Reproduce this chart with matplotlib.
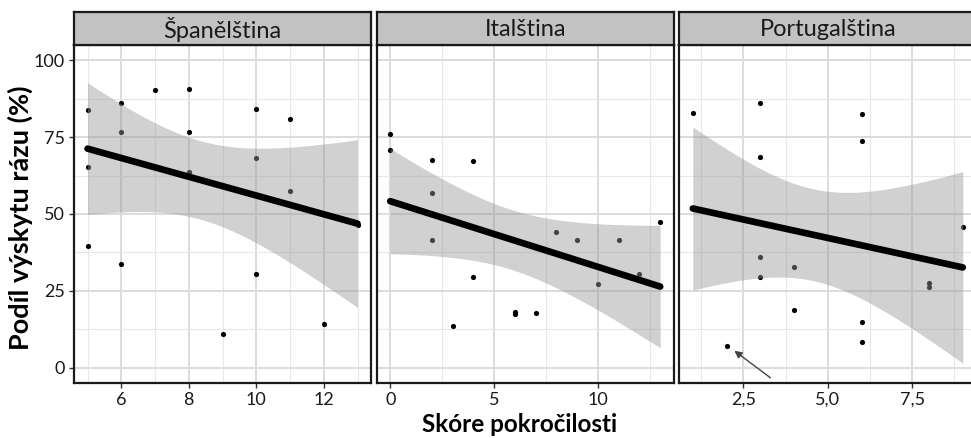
import numpy as np
import matplotlib
matplotlib.use("Agg")
import matplotlib.pyplot as plt

plt.rcParams['font.family'] = ['Lato', 'DejaVu Sans']

# data (x = skore, y = podil %)
es_x = [5, 5, 5, 6, 6, 6, 7, 8, 8, 8, 9, 10, 10, 10, 11, 11, 12, 13]
es_y = [84.0, 65.3, 39.5, 86.2, 76.7, 33.8, 90.5, 90.8, 76.6, 63.6, 10.8,
        84.3, 68.2, 30.5, 80.9, 57.4, 14.3, 46.5]

it_x = [0, 0, 2, 2, 2, 3, 4, 4, 6, 6, 7, 8, 9, 10, 11, 12, 13]
it_y = [75.9, 70.9, 67.7, 56.8, 41.6, 13.7, 67.2, 29.5, 18.1, 17.3, 17.9,
        44.2, 41.7, 27.2, 41.7, 30.4, 47.5]

pt_x = [1, 1, 2, 3, 3, 3, 3, 4, 4, 6, 6, 6, 6, 8, 8, 9]
pt_y = [82.8, 52.0, 7.1, 86.1, 68.5, 36.0, 29.5, 32.7, 18.6, 82.5, 73.6,
        14.7, 8.3, 27.7, 26.2, 45.8]

titles = ["Španělština", "Italština", "Portugalština"]
xticks = [[6, 8, 10, 12], [0, 5, 10], [2.5, 5.0, 7.5]]
xticklabels = [["6", "8", "10", "12"], ["0", "5", "10"], ["2,5", "5,0", "7,5"]]
xminor = [[5, 7, 9, 11, 13], [2.5, 7.5, 12.5], [1.25, 3.75, 6.25, 8.75]]
yticks = [0, 25, 50, 75, 100]
yminor = [12.5, 37.5, 62.5, 87.5]

# t quantiles (0.975) for df = n - 2
T975 = {13: 2.160, 14: 2.145, 15: 2.131, 16: 2.120}


def lm_ci(x, y, n_grid=80):
    x = np.asarray(x, float)
    y = np.asarray(y, float)
    n = len(x)
    b, a = np.polyfit(x, y, 1)
    resid = y - (a + b * x)
    s = np.sqrt(np.sum(resid ** 2) / (n - 2))
    sxx = np.sum((x - x.mean()) ** 2)
    xs = np.linspace(x.min(), x.max(), n_grid)
    fit = a + b * xs
    se = s * np.sqrt(1 / n + (xs - x.mean()) ** 2 / sxx)
    t = T975[n - 2]
    return xs, fit, fit - t * se, fit + t * se


fig = plt.figure(figsize=(9.71, 4.38), dpi=100)
W, H = 971, 438
lefts = [74, 376.7, 679.3]
pw = 297
top, bot, strip_top = 45, 383, 12

datasets = [(es_x, es_y), (it_x, it_y), (pt_x, pt_y)]

for i, (xv, yv) in enumerate(datasets):
    ax = fig.add_axes([lefts[i] / W, 1 - bot / H, pw / W, (bot - top) / H])
    rng = max(xv) - min(xv)
    ax.set_xlim(min(xv) - 0.05 * rng, max(xv) + 0.05 * rng)
    ax.set_ylim(-5, 105)

    ax.set_xticks(xticks[i])
    ax.set_xticklabels(xticklabels[i])
    ax.set_xticks(xminor[i], minor=True)
    ax.set_yticks(yticks)
    ax.set_yticks(yminor, minor=True)
    ax.grid(which='major', color='#dcdcdc', lw=1.4, zorder=0)
    ax.grid(which='minor', color='#e8e8e8', lw=0.8, zorder=0)
    ax.set_axisbelow(True)
    ax.tick_params(which='minor', length=0)
    ax.tick_params(which='major', length=3.5, width=1, color='#333333',
                   labelsize=13, labelcolor='#1a1a1a', pad=3)
    if i > 0:
        ax.tick_params(axis='y', which='both', left=False, labelleft=False)
    for sp in ax.spines.values():
        sp.set_linewidth(1.6)
        sp.set_color('#1a1a1a')

    ax.scatter(xv, yv, s=14, color='black', zorder=2, linewidths=0)
    xs, fit, lo, hi = lm_ci(xv, yv)
    ax.fill_between(xs, lo, hi, color='#999999', alpha=0.45, lw=0, zorder=3)
    ax.plot(xs, fit, color='black', lw=4.8, solid_capstyle='round', zorder=4)

    if i == 2:
        ax.annotate("", xy=(2.23, 5.5), xytext=(3.3, -3.3),
                    arrowprops=dict(arrowstyle='-|>', color='#444444', lw=1,
                                    mutation_scale=11, shrinkA=0, shrinkB=0),
                    zorder=5)

    sax = fig.add_axes([lefts[i] / W, 1 - top / H, pw / W, (top - strip_top) / H])
    sax.set_facecolor('#c2c2c2')
    sax.set_xticks([])
    sax.set_yticks([])
    for sp in sax.spines.values():
        sp.set_linewidth(1.6)
        sp.set_color('#1a1a1a')
    sax.text(0.5, 0.47, titles[i], ha='center', va='center', fontsize=17,
             color='#1a1a1a', transform=sax.transAxes)

fig.text(20 / W, 1 - 218 / H, "Podíl výskytu rázu (%)", rotation=90,
         ha='center', va='center', fontsize=19.5, fontweight='bold')
fig.text(520 / W, 1 - 424 / H, "Skóre pokročilosti", ha='center', va='center',
         fontsize=17.5, fontweight='bold')

fig.savefig("out.png", dpi=100)
